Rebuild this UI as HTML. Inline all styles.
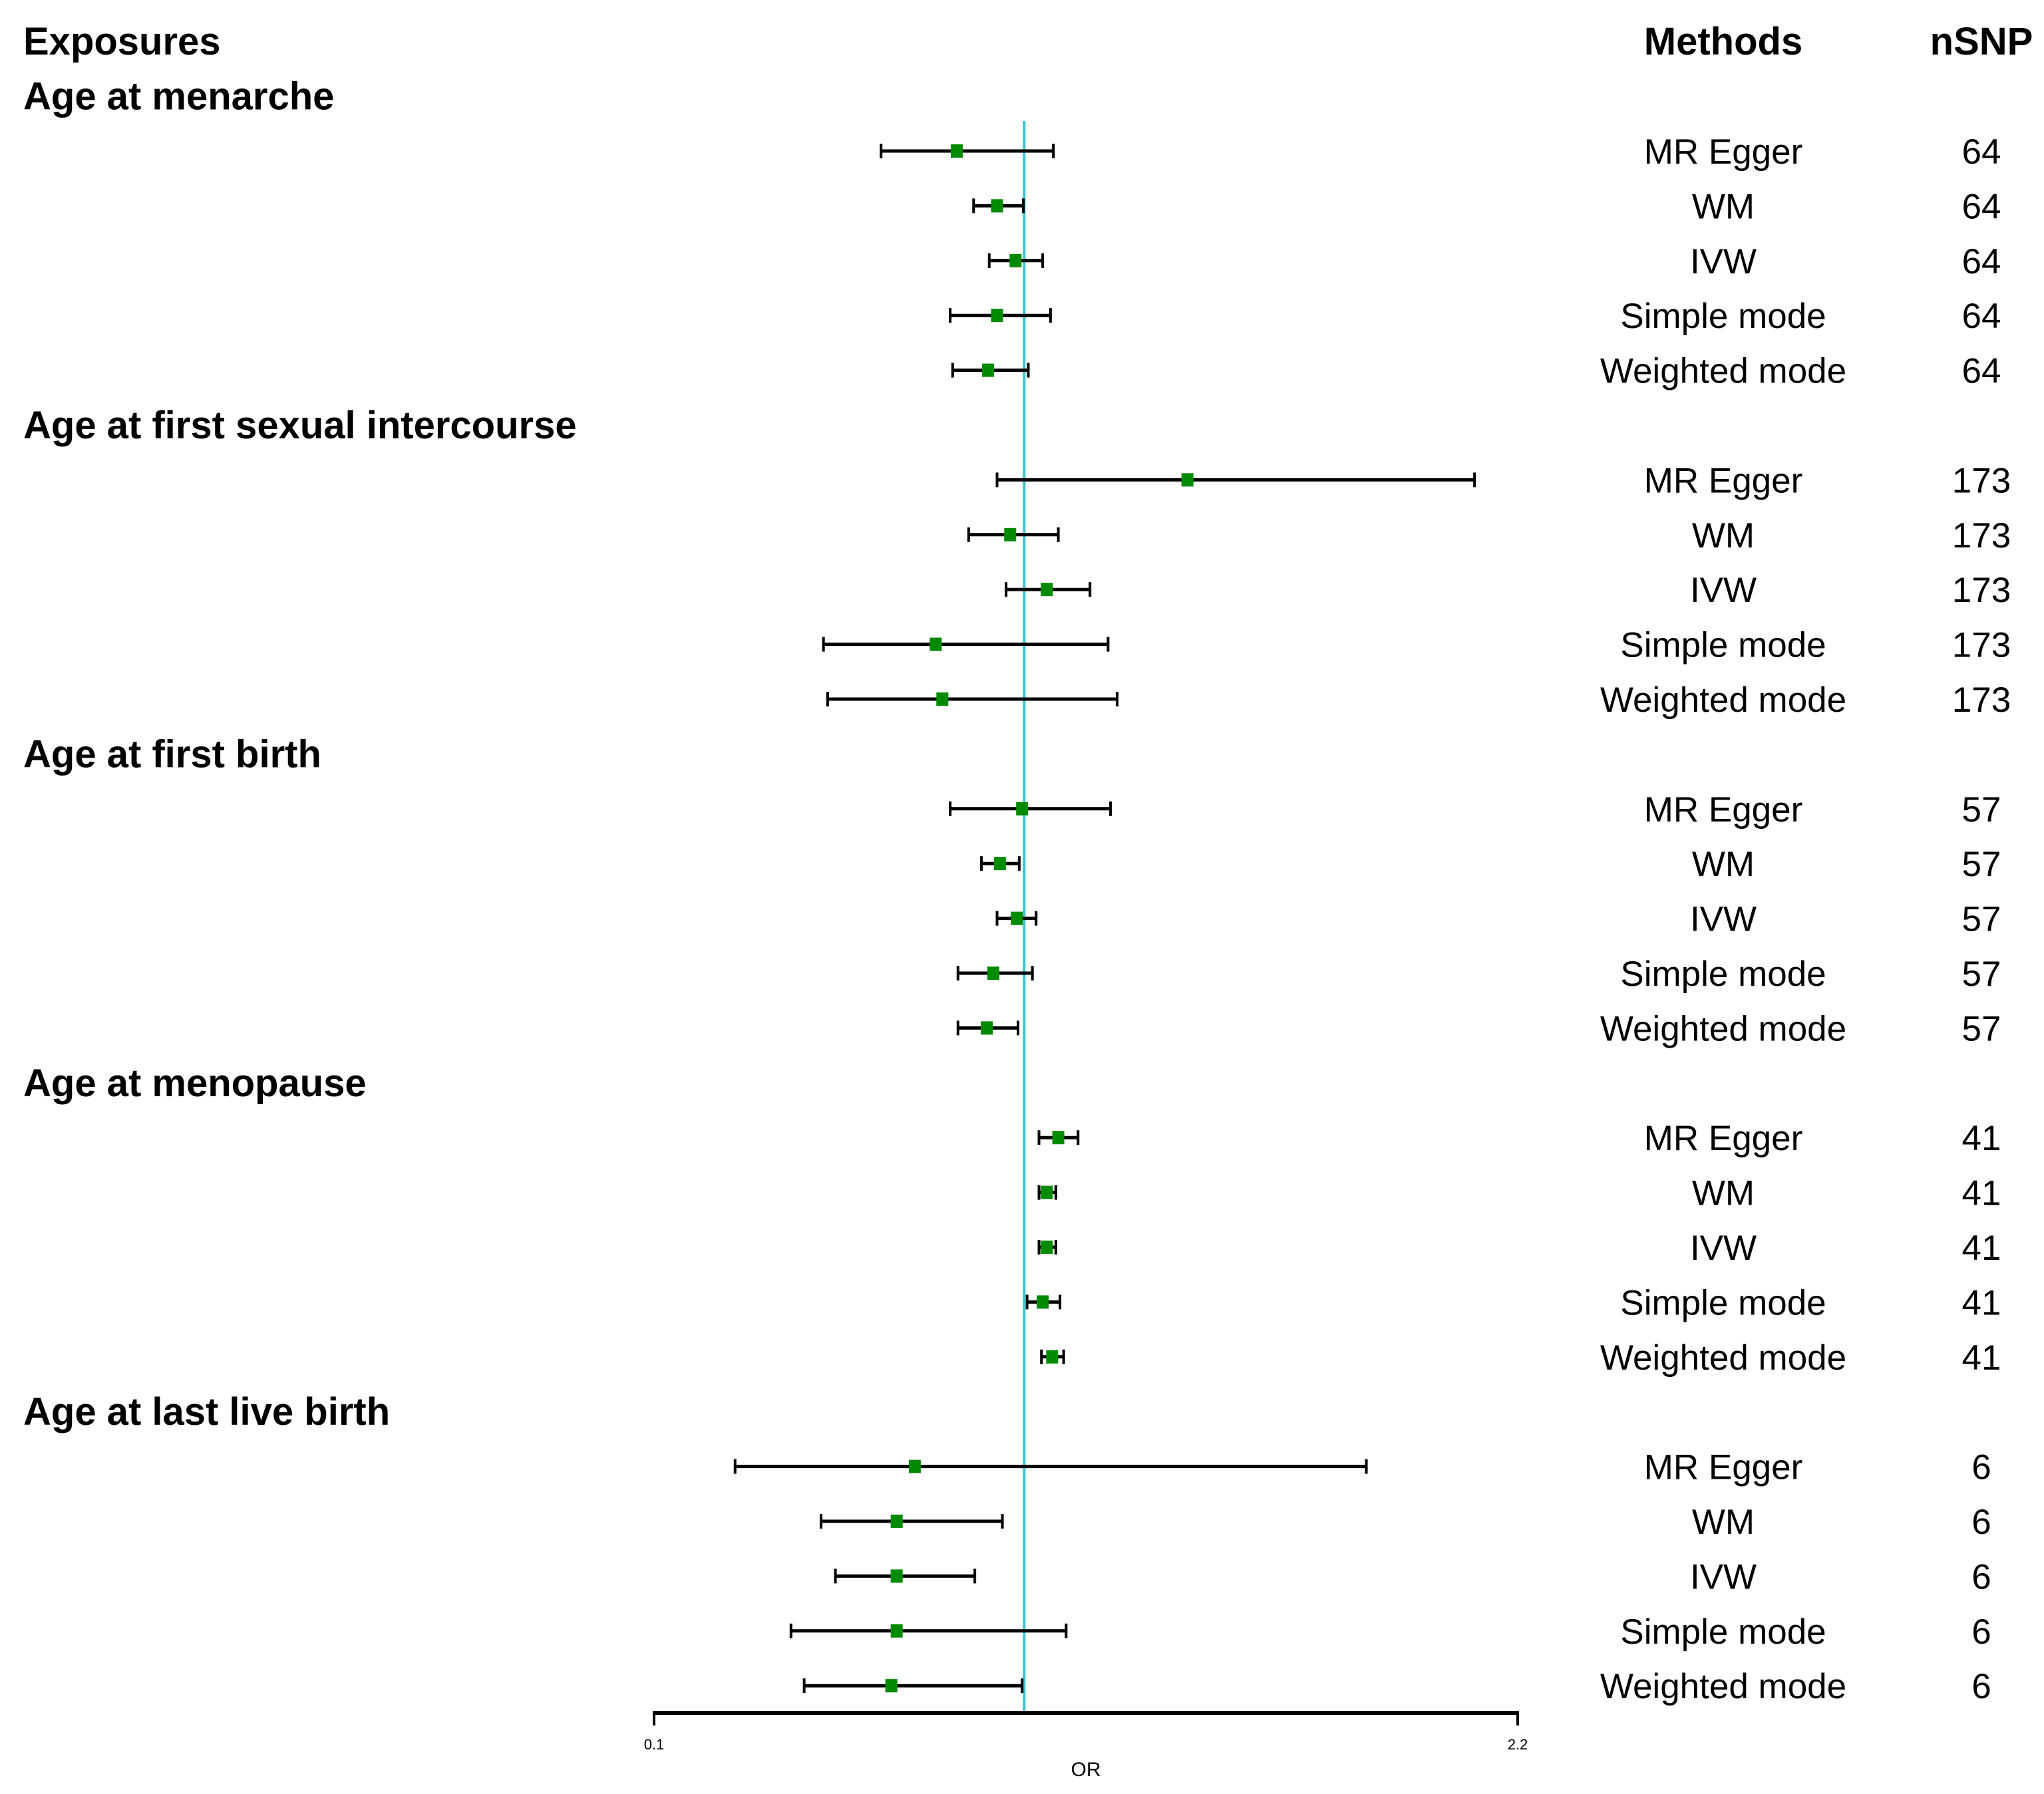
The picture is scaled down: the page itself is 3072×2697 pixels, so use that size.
<!DOCTYPE html>
<html><head><meta charset="utf-8"><style>
html,body{margin:0;padding:0;background:#fff}
svg{display:block}
text{font-family:"Liberation Sans",Arial,sans-serif}
</style></head><body>
<svg id="chart" width="3072" height="2697" viewBox="0 0 3072 2697" xmlns="http://www.w3.org/2000/svg">
<g id="marks"></g>
</svg>
<script>
const exposures = ["Age at menarche","Age at first sexual intercourse","Age at first birth","Age at menopause","Age at last live birth"];
const methods = ["MR Egger","WM","IVW","Simple mode","Weighted mode"];
const nsnp = ["64","173","57","41","6"];
const orPoint = [
  [0.836,0.934,0.979,0.934,0.912],
  [1.397,0.966,1.055,0.785,0.801],
  [0.995,0.941,0.982,0.925,0.909],
  [1.083,1.055,1.055,1.045,1.068],
  [0.734,0.690,0.690,0.690,0.677]
];
const orLow = [
  [0.652,0.877,0.915,0.820,0.826],
  [0.934,0.865,0.956,0.512,0.522],
  [0.820,0.896,0.934,0.839,0.839],
  [1.036,1.036,1.036,1.007,1.042],
  [0.297,0.506,0.541,0.433,0.465]
];
const orHigh = [
  [1.071,0.998,1.045,1.064,1.010],
  [2.095,1.083,1.160,1.204,1.226],
  [1.210,0.988,1.029,1.020,0.985],
  [1.131,1.077,1.077,1.087,1.096],
  [1.832,0.947,0.880,1.102,0.995]
];
const axisTicks = [0.1, 2.2];
const axisTickLabels = ["0.1","2.2"];
const refValue = 1;

const NS="http://www.w3.org/2000/svg";
const g=document.getElementById('marks');
const X0=983, X1=2281, DMIN=0.1, DMAX=2.2;
function xs(v){return X0+(v-DMIN)/(DMAX-DMIN)*(X1-X0);}
function rowY(e,m){return 227+(e*6+m)*82.4;}
function mk(tag,attrs){const el=document.createElementNS(NS,tag);for(const k in attrs)el.setAttribute(k,attrs[k]);g.appendChild(el);return el;}
function txt(s,x,y,size,weight,anchor){const t=mk('text',{x:x,y:y,'font-size':size,'font-weight':weight,'text-anchor':anchor,fill:'#000'});t.textContent=s;return t;}

let t=txt("Exposures",35,82,58,"bold","start");


t=txt("Methods",2590,82,58,"bold","middle");


t=txt("nSNP",2978,82,58,"bold","middle");



const ref=mk('line',{x1:xs(refValue),x2:xs(refValue),y1:182,y2:2574,stroke:'#3cc3d0','stroke-width':4});



exposures.forEach((ex,e)=>{
  const hy=rowY(e,0)-82.4;
  const h=txt(ex,35,hy+20,58,"bold","start");
  
  
  methods.forEach((m,i)=>{
    const y=rowY(e,i);
    const lo=xs(orLow[e][i]), hi=xs(orHigh[e][i]), pt=xs(orPoint[e][i]);
    const ln=mk('line',{x1:lo,x2:hi,y1:y,y2:y,stroke:'#000','stroke-width':5});
    
    
    [lo,hi].forEach(cx=>{
      const c=mk('line',{x1:cx,x2:cx,y1:y-11,y2:y+11,stroke:'#000','stroke-width':4});
      
      
    });
    const sq=mk('rect',{x:pt-9,y:y-10,width:18,height:20,fill:'#008a00'});
    
    
    const mt=txt(m,2590,y+19,53,"normal","middle");
    
    
    const nt=txt(nsnp[e],2978,y+19,53,"normal","middle");
    
    
  });
});

const ax=mk('line',{x1:X0,x2:X1,y1:2575,y2:2575,stroke:'#000','stroke-width':6});


axisTicks.forEach((v,i)=>{
  const tk=mk('line',{x1:xs(v),x2:xs(v),y1:2572,y2:2594,stroke:'#000','stroke-width':4});
  
  
  const tl=txt(axisTickLabels[i],xs(v),2630,22,"normal","middle");
  
  
});
const xt=txt("OR",1632,2670,30,"normal","middle");


</script>
</body></html>
